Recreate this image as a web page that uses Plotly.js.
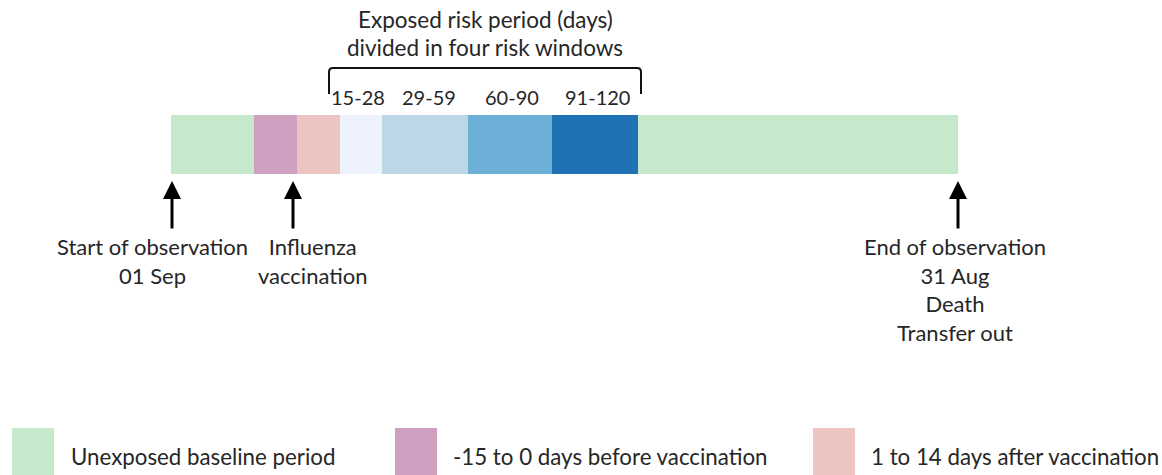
<!DOCTYPE html>
<html><head><meta charset="utf-8">
<script src="https://cdn.plot.ly/plotly-3.0.1.min.js"></script>
<style>html,body{margin:0;padding:0;background:#fff}#c{width:1162px;height:475px}</style>
</head><body><div id="c"></div>
<script>
// Timeline segments (in drawing units along the timeline)
const segNames = ['Baseline (before)', '-15 to 0', '1 to 14', '15-28', '29-59', '60-90', '91-120', 'Baseline (after)'];
const segLengths = [83, 43, 43, 42, 86, 84, 86, 320];
const segColors = ['#c7e9cb', '#cfa0c0', '#ecc4c2', '#eef2fc', '#bed7e6', '#6baed6', '#2171b5', '#c7e9cb'];
const timelineStart = 171;

const windowLabels = ['15-28', '29-59', '60-90', '91-120'];
const windowLabelPos = [358, 429, 512, 597];

const eventPos = [172, 293, 958];
const eventLabels = ['Start of observation<br>01 Sep', 'Influenza<br>vaccination', 'End of observation<br>31 Aug<br>Death<br>Transfer out'];
const eventLabelPos = [152, 313, 955];

const legendLabels = ['Unexposed baseline period', '-15 to 0 days before vaccination', '1 to 14 days after vaccination'];
const legendColors = ['#c7e9cb', '#cfa0c0', '#ecc4c2'];
const legendBoxX = [12, 395, 813];
const legendTextX = [69, 451, 869];

const font = 'Lato, "Open Sans", sans-serif';
const txtColor = '#262626';

// bars
const bases = [];
let acc = timelineStart;
for (const l of segLengths) { bases.push(acc); acc += l; }
const traces = segNames.map((n, i) => ({
  type: 'bar', orientation: 'h', name: n,
  x: [segLengths[i]], base: [bases[i]], y: [144.5], width: [59],
  marker: {color: segColors[i], line: {width: 0}},
  showlegend: false, hoverinfo: 'skip'
}));

const annotations = [];
const shapes = [];

// top title
annotations.push({x: 485, y: 19, xref: 'x', yref: 'y', text: 'Exposed risk period (days)', showarrow: false, font: {family: font, size: 22.5, color: txtColor}});
annotations.push({x: 485, y: 47, xref: 'x', yref: 'y', text: 'divided in four risk windows', showarrow: false, font: {family: font, size: 22.5, color: txtColor}});
windowLabels.forEach((t, i) => annotations.push({x: windowLabelPos[i], y: 97, xref: 'x', yref: 'y', text: t, showarrow: false, font: {family: font, size: 20, color: txtColor}}));

// bracket
shapes.push({type: 'path', xref: 'x', yref: 'y', path: 'M 329 94 L 329 72 Q 329 68 333 68 L 637 68 Q 641 68 641 72 L 641 94', line: {color: '#111', width: 2}});

// event arrows
eventPos.forEach((p, i) => {
  annotations.push({x: p, y: 181, ax: p, ay: 230, xref: 'x', yref: 'y', axref: 'x', ayref: 'y', text: '', showarrow: true, arrowhead: 2, arrowsize: 1.2, arrowwidth: 3, arrowcolor: '#000'});
  annotations.push({x: eventLabelPos[i], y: 231, xref: 'x', yref: 'y', yanchor: 'top', text: eventLabels[i], showarrow: false, align: 'center', font: {family: font, size: 22, color: txtColor}});
});

// legend
legendLabels.forEach((t, i) => {
  shapes.push({type: 'rect', xref: 'x', yref: 'y', x0: legendBoxX[i], x1: legendBoxX[i] + 42, y0: 428, y1: 480, fillcolor: legendColors[i], line: {width: 0}});
  annotations.push({x: legendTextX[i], y: 456, xref: 'x', yref: 'y', xanchor: 'left', text: t, showarrow: false, font: {family: font, size: 22.3, color: txtColor}});
});

const layout = {
  width: 1162, height: 475,
  margin: {l: 0, r: 0, t: 0, b: 0},
  paper_bgcolor: '#fff', plot_bgcolor: '#fff',
  barmode: 'overlay',
  xaxis: {range: [0, 1162], visible: false, fixedrange: true},
  yaxis: {range: [475, 0], visible: false, fixedrange: true},
  shapes, annotations, showlegend: false
};
Plotly.newPlot('c', traces, layout, {displayModeBar: false, staticPlot: true});
</script></body></html>
